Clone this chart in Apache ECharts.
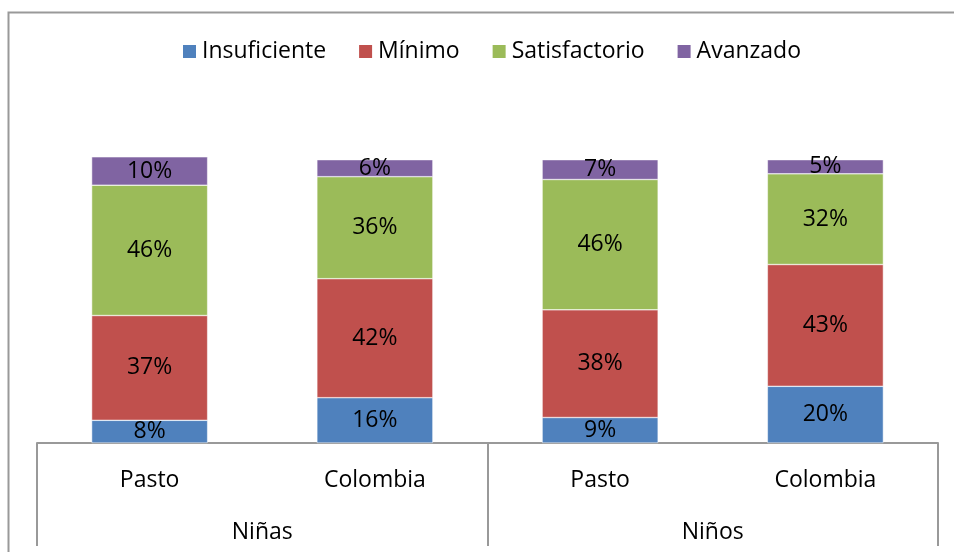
<!DOCTYPE html>
<html lang="es">
<head>
    <meta charset="UTF-8">
    <title>Niveles de desempeño</title>
    <script src="https://cdn.jsdelivr.net/npm/echarts@6.0.0/dist/echarts.min.js"></script>
    <style>
        html, body { margin: 0; padding: 0; background: #fff; }
        #chart-container { width: 954px; height: 552px; }
    </style>
</head>
<body>
<div id="chart-container"></div>

<script>
    // categorías (nivel 1 y nivel 2 del eje)
    var lugares = ["Pasto", "Colombia", "Pasto", "Colombia"];
    var grupos = ["Niñas", "Niños"];

    // porcentajes por nivel de desempeño
    var insuficiente = [8, 16, 9, 20];
    var minimo = [37, 42, 38, 43];
    var satisfactorio = [46, 36, 46, 32];
    var avanzado = [10, 6, 7, 5];

    var colors = ["#4F81BD", "#C0504D", "#9BBB59", "#8064A2"];
    var fuente = "Open Sans";
    var tam = 23;

    function serie(nombre, datos) {
        return {
            name: nombre,
            type: "bar",
            stack: "total",
            barWidth: "51.5%",
            data: datos,
            itemStyle: { borderColor: "#fff", borderWidth: 0.5 },
            label: {
                show: true,
                position: "inside",
                formatter: "{c}%",
                color: "#000",
                fontFamily: fuente,
                fontSize: tam
            }
        };
    }

    var option = {
        color: colors,
        animation: false,
        textStyle: { fontFamily: fuente },
        graphic: [{
            type: "rect",
            left: 6,
            top: 10,
            shape: { width: 1000, height: 600 },
            style: { fill: "none", stroke: "#999", lineWidth: 2 },
            silent: true
        }],
        legend: {
            top: 35,
            left: 176,
            itemWidth: 15,
            itemHeight: 15,
            itemGap: 31,
            icon: "rect",
            textStyle: { fontSize: tam, color: "#000", fontFamily: fuente },
            data: ["Insuficiente", "Mínimo", "Satisfactorio", "Avanzado"]
        },
        grid: { left: 37, right: 16, top: 103, bottom: 109 },
        xAxis: [
            {
                type: "category",
                data: lugares,
                position: "bottom",
                axisLine: { show: true, lineStyle: { color: "#999", width: 2 } },
                axisTick: { show: false },
                axisLabel: { color: "#000", fontSize: tam, margin: 26, fontFamily: fuente }
            },
            {
                type: "category",
                data: grupos,
                position: "bottom",
                axisLine: { show: false },
                axisTick: { show: true, length: 103, lineStyle: { color: "#999", width: 2 } },
                axisLabel: { color: "#000", fontSize: tam, margin: 78, fontFamily: fuente }
            }
        ],
        yAxis: {
            type: "value",
            min: 0,
            max: 120,
            show: false,
            splitLine: { show: false }
        },
        series: [
            serie("Insuficiente", insuficiente),
            serie("Mínimo", minimo),
            serie("Satisfactorio", satisfactorio),
            serie("Avanzado", avanzado)
        ]
    };

    var chart = echarts.init(document.getElementById("chart-container"));
    chart.setOption(option);
</script>
</body>
</html>
